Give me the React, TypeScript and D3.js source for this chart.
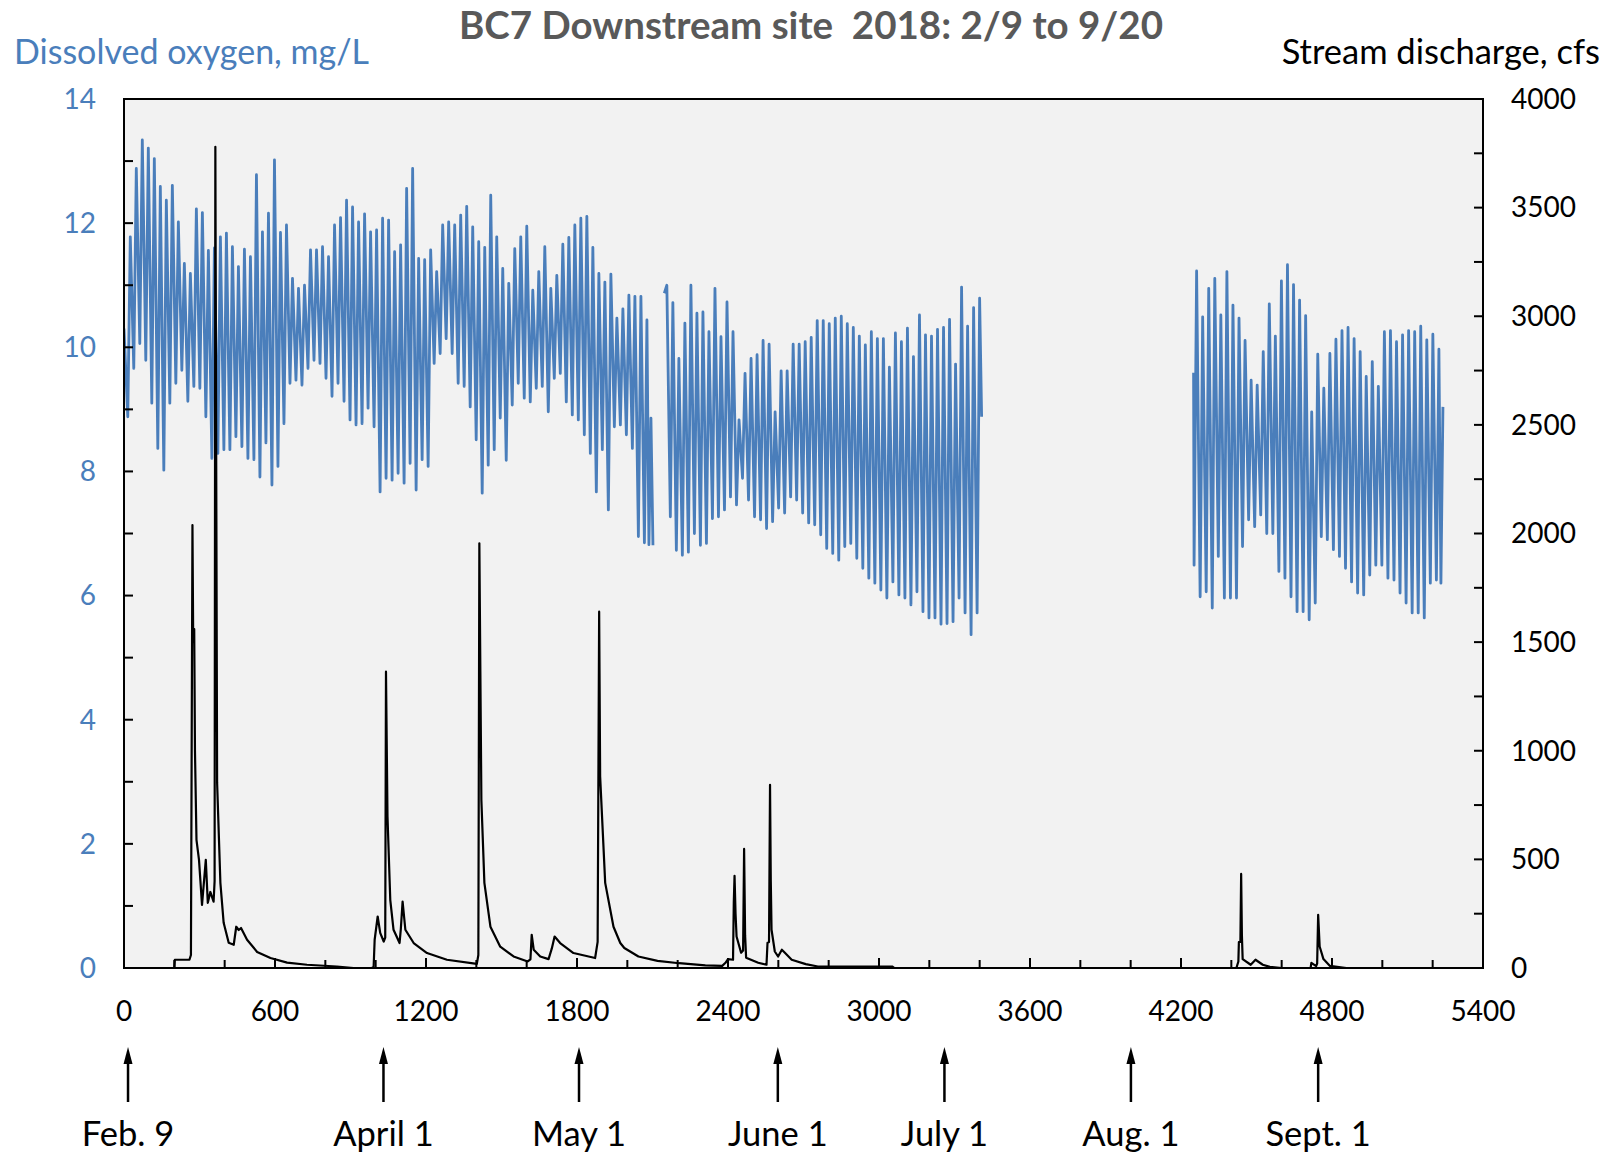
import React from "react";
import * as d3 from "d3";

// dissolved oxygen, read as one low and one high per day (mg/L)
const segA = {
  openAt: 0,
  open: 10.3,
  firstPeak: 25,
  period: 23.87,
  lows: [
    8.88, 9.66, 10.06, 9.79, 9.10, 8.37, 8.02, 9.10, 9.42, 9.63,
    9.13, 9.37, 9.34, 8.88, 8.21, 8.29, 8.35, 8.35, 8.56, 8.40,
    8.21, 8.19, 7.91, 8.46, 7.78, 8.08, 8.77, 9.42, 9.47, 9.39,
    9.66, 9.79, 9.74, 9.50, 9.21, 9.42, 9.13, 8.83, 8.75, 8.77,
    9.02, 8.72, 7.67, 7.89, 7.86, 7.97, 7.81, 8.13, 7.70, 8.19,
    8.08,
    9.74, 9.90, 10.14, 9.90, 9.42, 9.37, 9.04, 8.51, 7.65, 8.10,
    8.35, 8.86, 8.18, 9.07, 9.42, 9.18, 9.12, 9.34, 9.37, 8.96,
    9.50, 9.58, 9.12, 8.91, 8.83, 8.59, 8.29, 7.67, 8.35, 7.38,
    8.72, 8.75, 8.59, 8.37, 6.95, 6.85,
  ],
  highs: [
    11.78, 12.88, 13.34, 13.21, 13.04, 12.59, 12.37, 12.61, 12.02, 11.35,
    11.19, 12.23, 12.17, 11.56, 11.6, 11.78, 11.84, 11.62, 11.30, 11.58,
    11.46, 12.78, 11.86, 12.16, 13.02, 11.85, 11.97, 11.11, 10.95, 11.00,
    11.57, 11.57, 11.62, 11.46, 11.97, 12.09, 12.37, 12.26, 12.02, 12.15,
    11.86, 11.89, 12.08, 12.05, 11.54, 11.65, 12.56, 12.88, 11.43, 11.41,
    11.57,
    11.22, 11.97, 12.02, 11.97, 12.13, 12.27, 11.94, 11.70, 11.61, 12.45,
    11.78, 11.27, 11.03, 11.59, 11.78, 11.95, 10.92, 11.22, 11.62, 10.95,
    11.16, 11.66, 11.77, 11.97, 12.08, 12.11, 11.61, 11.19, 11.05, 11.18,
    10.47, 10.62, 10.84, 10.82, 10.82, 10.44,
  ],
  tail: [6.82, 8.86, 6.81],
};

const segB = {
  openAt: null,
  open: null,
  firstPeak: 2157,
  period: 23.9,
  lows: [
    10.87, 7.27, 6.73, 6.65, 6.7, 7.00, 6.81, 6.84, 7.24, 7.27,
    7.38,
    7.59, 7.46, 7.89, 7.54, 7.27, 7.22, 7.08, 7.19, 7.41, 7.33,
    7.59, 7.54, 7.33, 7.17, 7.14, 6.98, 6.76, 6.68, 6.57, 6.79,
    6.84, 6.60, 6.44, 6.28, 6.20, 6.09, 5.96, 6.22, 6.01, 5.96,
    5.85, 6.06, 5.74, 5.64, 5.64, 5.54, 5.55, 5.58, 5.96, 5.72,
    5.37, 5.72,
  ],
  highs: [
    11.0, 10.72, 9.82, 10.39, 11.0, 10.55, 10.57, 10.25, 10.95, 10.17,
    10.73, 10.25, 8.83, 9.58, 9.82, 9.88, 10.11, 10.05, 8.96, 9.62,
    9.62, 10.05, 10.05, 10.09, 10.16, 10.43, 10.43, 10.38, 10.47, 10.50,
    10.38, 10.32, 10.18, 10.04, 10.25, 10.14, 10.14, 9.68, 10.23, 10.09,
    10.31, 9.85, 10.52, 10.20, 10.18, 10.29, 10.32, 10.45, 9.73, 10.97,
    10.34, 10.64, 10.79,
  ],
  tail: [8.88],
};

const segC = {
  openAt: 4250,
  open: 9.59,
  firstPeak: 4262,
  period: 24.07,
  lows: [
    6.49, 5.98, 6.06, 5.80, 6.63, 5.96, 5.96, 5.96, 6.79, 7.22,
    7.11, 7.30, 7.00, 7.00, 6.39, 6.28, 5.98, 5.74, 5.74, 5.61,
    5.88, 6.95, 6.90, 6.74, 6.63, 6.44, 6.22, 6.04, 6.01, 6.33,
    6.49, 6.49, 6.28, 6.25, 6.04, 5.88, 5.72, 5.72, 5.64, 6.20,
    6.25,
  ],
  highs: [
    11.23, 10.49, 10.95, 11.11, 10.52, 11.22, 10.68, 10.47, 10.11, 9.47,
    9.39, 9.93, 10.70, 10.18, 11.07, 11.33, 11.01, 10.76, 10.51, 8.96,
    9.89, 9.34, 9.90, 10.13, 10.27, 10.32, 10.14, 9.93, 9.53, 9.77,
    9.37, 10.25, 10.27, 10.09, 10.20, 10.27, 10.25, 10.34, 10.12, 10.21,
    9.97,
  ],
  tail: [6.20, 9.04],
};

// stream discharge, [observation, cfs]
const discharge: [number, number][] = [
  [0, 0], [200, 0], [202, 38], [260, 38], [266, 60], [272, 2039], [275, 1500], [279, 1560],
  [282, 1000], [288, 590], [298, 498], [310, 290], [325, 498], [333, 300], [343, 350],
  [356, 305], [360, 400], [363, 3780], [366, 2500], [370, 852], [383, 392], [396, 208],
  [416, 116], [436, 107], [446, 190], [456, 175], [465, 184], [489, 130], [529, 74],
  [582, 46], [648, 25], [727, 15], [846, 7], [912, 0], [985, 0], [992, 7], [996, 130],
  [1008, 237], [1018, 162], [1032, 122], [1038, 140], [1041, 1364], [1047, 697],
  [1058, 314], [1071, 176], [1095, 115], [1100, 180], [1107, 306], [1118, 176],
  [1151, 115], [1204, 69], [1283, 38], [1402, 19], [1408, 60], [1412, 1955], [1420, 774],
  [1432, 392], [1456, 190], [1495, 98], [1548, 53], [1604, 30], [1615, 40], [1620, 153],
  [1628, 84], [1654, 53], [1687, 41], [1700, 90], [1711, 145], [1733, 115], [1786, 69],
  [1872, 46], [1882, 120], [1888, 1640], [1892, 881], [1912, 392], [1945, 190],
  [1972, 115], [1988, 92], [2044, 53], [2120, 33], [2206, 22], [2310, 12], [2377, 10],
  [2390, 24], [2400, 41], [2420, 38], [2423, 300], [2426, 424], [2430, 250], [2434, 145],
  [2452, 70], [2460, 80], [2464, 548], [2468, 150], [2472, 47], [2520, 24], [2553, 15],
  [2557, 116], [2563, 120], [2567, 843], [2570, 400], [2573, 176], [2586, 76], [2599, 53],
  [2614, 84], [2627, 69], [2653, 38], [2709, 18], [2757, 7], [3052, 7], [3060, 0],
  [4420, 0], [4428, 30], [4430, 119], [4436, 120], [4439, 433], [4442, 150], [4445, 41],
  [4477, 15], [4496, 38], [4525, 15], [4553, 5], [4600, 0], [4715, 0], [4718, 24],
  [4737, 9], [4741, 20], [4745, 245], [4751, 99], [4766, 41], [4791, 10], [4857, 0],
];

const arrowAt = [16, 1031, 1808, 2598, 3260, 4001, 4745];
const arrowLabels = ["Feb. 9", "April 1", "May 1", "June 1", "July 1", "Aug. 1", "Sept. 1"];

const xTicks = d3.range(0, 5401, 200);
const xLabels = d3.range(0, 5401, 600);
const doTicks = d3.range(0, 15, 1);
const doLabels = d3.range(0, 15, 2);
const qTicks = d3.range(0, 4001, 250);
const qLabels = d3.range(0, 4001, 500);

function segPoints(s: any): [number, number][] {
  const pts: [number, number][] = [];
  if (s.open != null) pts.push([s.openAt, s.open]);
  s.highs.forEach((h: number, i: number) => {
    const t = s.firstPeak + i * s.period;
    pts.push([t - 10, s.lows[i]]);
    pts.push([t, h]);
  });
  const last = s.firstPeak + (s.highs.length - 1) * s.period;
  s.tail.forEach((v: number, j: number) => pts.push([last + 8 * (j + 1), v]));
  return pts;
}

const BLUE = "#4a7ebb";
const FONT = "Lato, 'Open Sans', sans-serif";

export default function App() {
  const L = 124, R = 1483, T = 99, B = 968;
  const x = d3.scaleLinear().domain([0, 5400]).range([L, R]);
  const yDO = d3.scaleLinear().domain([0, 14]).range([B, T]);
  const yQ = d3.scaleLinear().domain([0, 4000]).range([B, T]);

  const doLine = d3.line<[number, number]>().x(d => x(d[0])).y(d => yDO(d[1]));
  const qLine = d3.line<[number, number]>().x(d => x(d[0])).y(d => yQ(d[1]));

  return (
    <svg width={1615} height={1155} style={{ position: "absolute", left: 0, top: 0, background: "#fff" }} fontFamily={FONT}>
      <defs>
        <clipPath id="plot"><rect x={L} y={T} width={R - L} height={B - T} /></clipPath>
      </defs>
      <rect x={L} y={T} width={R - L} height={B - T} fill="#f2f2f2" />
      <g clipPath="url(#plot)" fill="none">
        {[segA, segB, segC].map((s, i) => (
          <path key={i} d={doLine(segPoints(s)) || ""} stroke={BLUE} strokeWidth={2.8} strokeLinejoin="round" />
        ))}
        <path d={qLine(discharge) || ""} stroke="#000" strokeWidth={2.2} strokeLinejoin="round" />
      </g>
      <rect x={L} y={T} width={R - L} height={B - T} fill="none" stroke="#000" strokeWidth={2} />

      {/* bottom ticks */}
      {xTicks.map(t => (
        <line key={"xt" + t} x1={x(t)} x2={x(t)} y1={B} y2={B - (t % 600 === 0 ? 10 : 8)} stroke="#000" strokeWidth={2} />
      ))}
      {xLabels.map(t => (
        <text key={"xl" + t} x={x(t)} y={1021} textAnchor="middle" fontSize={28} fill="#000">{t}</text>
      ))}

      {/* left ticks */}
      {doTicks.map(t => (
        <line key={"lt" + t} x1={L} x2={L + 9} y1={yDO(t)} y2={yDO(t)} stroke="#000" strokeWidth={2} />
      ))}
      {doLabels.map(t => (
        <text key={"ll" + t} x={96} y={yDO(t)} dy="0.35em" textAnchor="end" fontSize={28} fill={BLUE}>{t}</text>
      ))}

      {/* right ticks */}
      {qTicks.map(t => (
        <line key={"rt" + t} x1={R} x2={R - 9} y1={yQ(t)} y2={yQ(t)} stroke="#000" strokeWidth={2} />
      ))}
      {qLabels.map(t => (
        <text key={"rl" + t} x={1511} y={yQ(t)} dy="0.35em" textAnchor="start" fontSize={28} fill="#000">{t}</text>
      ))}

      <text x={811} y={39} textAnchor="middle" fontSize={38.5} fontWeight="bold" fill="#595959">
        BC7 Downstream site{"\u00a0\u00a0"}2018: 2/9 to 9/20
      </text>
      <text x={14} y={64} fontSize={34} fill={BLUE}>Dissolved oxygen, mg/L</text>
      <text x={1600} y={64} textAnchor="end" fontSize={34.5} fill="#000">Stream discharge, cfs</text>

      {/* date arrows */}
      {arrowAt.map((a, i) => (
        <g key={"ar" + i}>
          <line x1={x(a)} x2={x(a)} y1={1102} y2={1060} stroke="#000" strokeWidth={2.5} />
          <path d={`M${x(a)},${1047} L${x(a) - 4.5},${1064} L${x(a) + 4.5},${1064} Z`} fill="#000" />
          <text x={x(a)} y={1146} textAnchor="middle" fontSize={34.5} fill="#000">{arrowLabels[i]}</text>
        </g>
      ))}
    </svg>
  );
}
